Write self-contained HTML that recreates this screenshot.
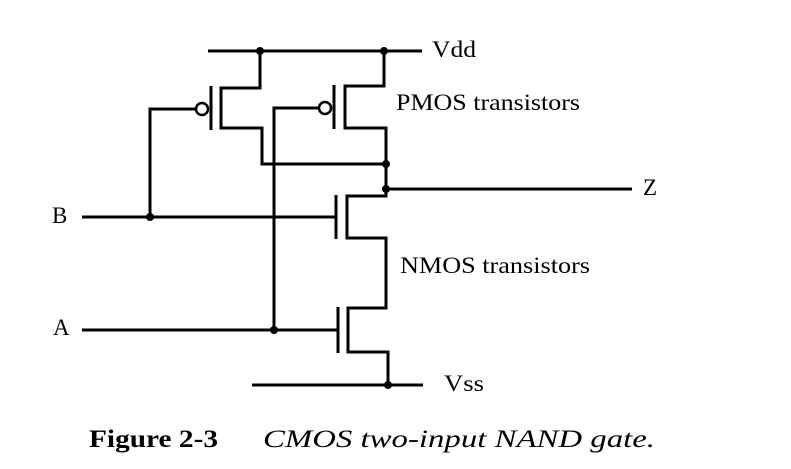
<!DOCTYPE html>
<html><head><meta charset="utf-8"><style>html,body{margin:0;padding:0;background:#fff}svg{display:block}</style></head><body>
<svg width="791" height="469" viewBox="0 0 791 469" xmlns="http://www.w3.org/2000/svg">
<g stroke="#000" stroke-width="3" fill="none" stroke-linecap="butt">
<line x1="208" y1="51" x2="422" y2="51"/>
<polyline points="260,51 260,88 221,88"/>
<line x1="221" y1="86.5" x2="221" y2="129.5"/>
<line x1="211" y1="86" x2="211" y2="130"/>
<polyline points="221,128 262,128 262,164 386,164"/>
<circle cx="202" cy="109" r="6" stroke-width="2.5"/>
<polyline points="196,109 150,109 150,217"/>
<polyline points="384,51 384,86 345,86"/>
<line x1="345" y1="84.5" x2="345" y2="129.5"/>
<line x1="334" y1="85" x2="334" y2="129"/>
<circle cx="325" cy="108" r="6" stroke-width="2.5"/>
<polyline points="319,108 274,108 274,330"/>
<polyline points="345,128 386,128 386,196 347,196"/>
<line x1="386" y1="189" x2="632" y2="189"/>
<line x1="336" y1="195" x2="336" y2="239"/>
<line x1="347" y1="194.5" x2="347" y2="239.5"/>
<polyline points="347,238 386,238 386,308 348,308"/>
<line x1="338" y1="307" x2="338" y2="353"/>
<line x1="348" y1="306.5" x2="348" y2="353.5"/>
<polyline points="348,352 388,352 388,385"/>
<line x1="252" y1="385" x2="423" y2="385"/>
<line x1="82" y1="217" x2="336" y2="217"/>
<line x1="82" y1="330" x2="338" y2="330"/>
</g>
<g fill="#000">
<circle cx="260" cy="51" r="4"/><circle cx="384" cy="51" r="4"/>
<circle cx="386" cy="164" r="4"/><circle cx="386" cy="189" r="4"/>
<circle cx="150" cy="217" r="4"/><circle cx="274" cy="330" r="4"/>
<circle cx="388" cy="385" r="4"/>
</g>
<g font-family="Liberation Serif, serif" font-size="23" fill="#000">
<text x="432" y="57" textLength="44" lengthAdjust="spacingAndGlyphs">Vdd</text>
<text x="396" y="110" textLength="184" lengthAdjust="spacingAndGlyphs">PMOS transistors</text>
<text x="643" y="195">Z</text>
<text x="52" y="223">B</text>
<text x="400" y="273" textLength="190" lengthAdjust="spacingAndGlyphs">NMOS transistors</text>
<text x="53" y="335">A</text>
<text x="444" y="391" textLength="40" lengthAdjust="spacingAndGlyphs">Vss</text>
<text x="89" y="447" font-size="25" font-weight="bold" textLength="129" lengthAdjust="spacingAndGlyphs">Figure 2-3</text>
<text x="263" y="447" font-size="25" font-style="italic" textLength="392" lengthAdjust="spacingAndGlyphs">CMOS two-input NAND gate.</text>
</g>
</svg>
</body></html>
